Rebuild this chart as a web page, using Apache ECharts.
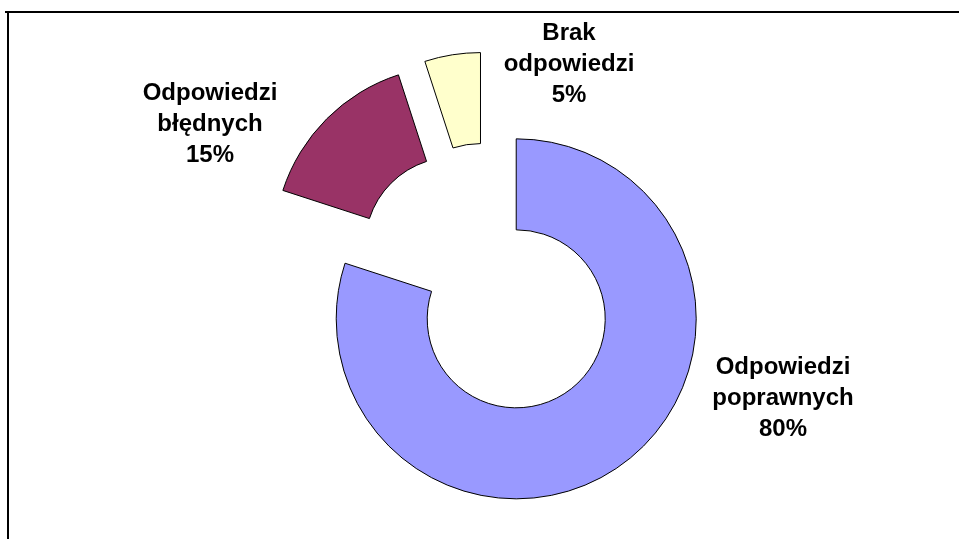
<!DOCTYPE html>
<html>
<head>
<meta charset="utf-8">
<script src="https://cdn.jsdelivr.net/npm/echarts@6/dist/echarts.min.js"></script>
<style>
  html, body { margin: 0; padding: 0; background: #fff; }
  #chart { width: 959px; height: 539px; }
</style>
</head>
<body>
<div id="chart"></div>
<script>
// dane wykresu
var categories = ['Odpowiedzi\npoprawnych', 'Odpowiedzi\nbłędnych', 'Brak\nodpowiedzi'];
var values = [80, 15, 5];
var colors = ['#9999FF', '#993366', '#FFFFCC'];

// położenie etykiet (środek bloku tekstu)
var labelPos = [[783, 398], [210, 124], [569, 64]];

var myChart = echarts.init(document.getElementById('chart'));

var total = values.reduce(function (a, b) { return a + b; }, 0);

var pieData = categories.map(function (name, i) {
    return {
        name: name,
        value: values[i],
        selected: true,
        itemStyle: { color: colors[i] },
        select: { itemStyle: { color: colors[i], borderColor: '#000', borderWidth: 1 } }
    };
});

// etykiety jako tekst w graphic (nazwa + procent liczony z danych)
var labels = categories.map(function (name, i) {
    return {
        type: 'text',
        x: labelPos[i][0],
        y: labelPos[i][1],
        style: {
            text: name + '\n' + Math.round(values[i] / total * 100) + '%',
            fontFamily: 'Liberation Sans, Arial, sans-serif',
            fontWeight: 'bold',
            fontSize: 24,
            lineHeight: 31,
            fill: '#000',
            align: 'center',
            verticalAlign: 'middle'
        }
    };
});

var option = {
    animation: false,
    backgroundColor: '#fff',
    graphic: [
        { type: 'line', shape: { x1: 5, y1: 12, x2: 959, y2: 12 }, style: { stroke: '#000', lineWidth: 2 } },
        { type: 'line', shape: { x1: 8, y1: 12, x2: 8, y2: 539 }, style: { stroke: '#000', lineWidth: 2 } }
    ].concat(labels),
    series: [
        {
            type: 'pie',
            center: [488, 280],
            radius: [89, 180],
            startAngle: 90,
            clockwise: true,
            selectedMode: 'multiple',
            selectedOffset: 48,
            emphasis: { disabled: true },
            itemStyle: { borderColor: '#000', borderWidth: 1 },
            label: { show: false },
            labelLine: { show: false },
            data: pieData
        }
    ]
};

myChart.setOption(option);
</script>
</body>
</html>
